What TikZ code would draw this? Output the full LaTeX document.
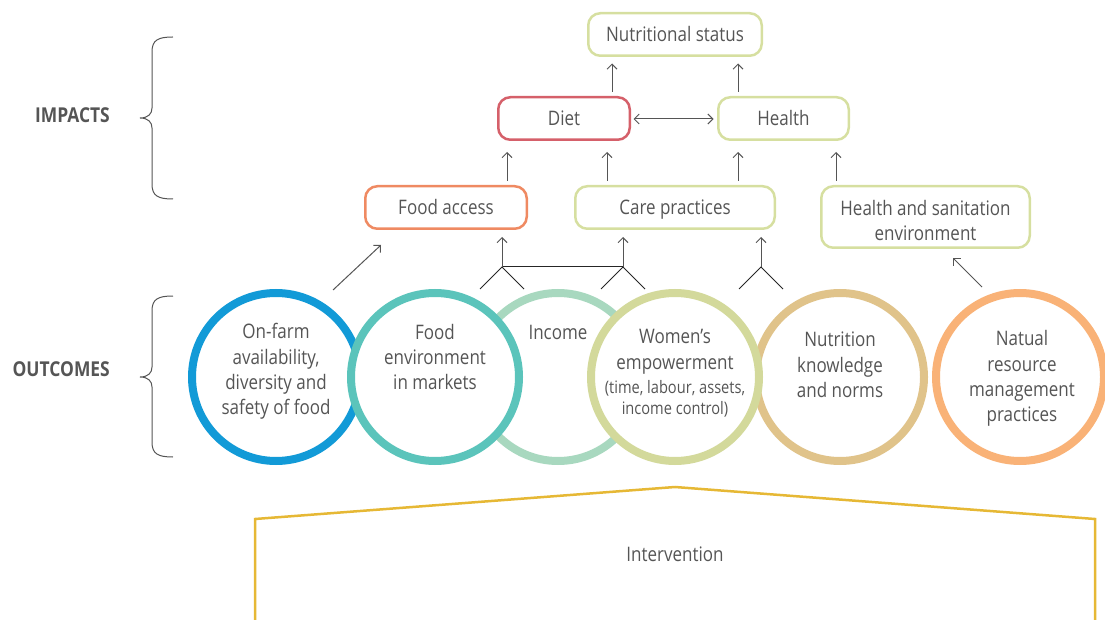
\documentclass[tikz,border=0pt]{standalone}
\usepackage{fontspec}
\setmainfont[FakeStretch=0.85]{Open Sans}
\usetikzlibrary{arrows.meta,calc}
\definecolor{txt}{HTML}{555555}
\definecolor{cblue}{HTML}{129AD7}
\definecolor{cteal}{HTML}{5BC4BB}
\definecolor{cmint}{HTML}{A8D8BF}
\definecolor{colive}{HTML}{D3D99B}
\definecolor{ctan}{HTML}{E0C38A}
\definecolor{corange}{HTML}{F9B277}
\definecolor{bred}{HTML}{D5606A}
\definecolor{borange}{HTML}{EF8A62}
\definecolor{bgreen}{HTML}{D6DFA0}
\definecolor{cyellow}{HTML}{E6B835}
\definecolor{arrgray}{HTML}{555555}
\tikzset{
  box/.style={draw, rounded corners=12pt, line width=2.5pt, minimum height=42.5pt, text=txt, font=\fontsize{20}{25}\selectfont, align=center, inner sep=2pt},
  ring/.style={circle, draw, fill=white, line width=8pt, minimum size=168pt, inner sep=0pt},
  ctext/.style={text=txt, font=\fontsize{20}{25.3}\selectfont, align=center, inner sep=0pt},
  arr/.style={draw=arrgray, line width=1pt, -{Straight Barb[length=5pt,width=10pt]}},
  fork/.style={draw=black!85, line width=1pt},
  brace/.style={draw=arrgray, line width=1pt},
  side/.style={text=txt, font=\fontsize{20.5}{24}\selectfont\bfseries, anchor=east, inner sep=0pt}
}
\begin{document}
\begin{tikzpicture}[x=1pt,y=-1pt]
\useasboundingbox (0,0) rectangle (1105,620);
% impact boxes
\node[box, draw=bgreen, minimum width=173.5pt] (nutri) at (675,34.5) {Nutritional status};
\node[box, draw=bred, minimum width=131.5pt] (diet) at (564,118.5) {Diet};
\node[box, draw=bgreen, minimum width=130.5pt] (health) at (783.5,118.5) {Health};
\node[box, draw=borange, minimum width=161.5pt] (food) at (446,207.5) {Food access};
\node[box, draw=bgreen, minimum width=199.5pt, text depth=0pt] (care) at (675,207.5) {Care practices};
\node[box, draw=bgreen, minimum width=208.5pt, minimum height=61.5pt] (hse) at (925.5,217) {\rule{0pt}{22pt}Health and sanitation\\environment};
% outcome circles
\node[ring, draw=cmint] (c3) at (558,377) {};
\node[ring, draw=cblue] (c1) at (276,377) {};
\node[ring, draw=cteal] (c2) at (435,377) {};
\node[ring, draw=ctan] (c5) at (840,377) {};
\node[ring, draw=colive] (c4) at (675,377) {};
\node[ring, draw=corange] (c6) at (1020,377) {};
\node[ctext] (t1) at (276,371.5) {On-farm\\availability,\\diversity and\\safety of food};
\node[ctext] (t2) at (435,357) {Food\\environment\\in markets};
\node[ctext] (t3) at (558,332) {Income};
\node[ctext, font=\fontsize{20}{26.5}\selectfont] (t4) at (675,352) {Women’s\\empowerment};
\node[ctext, font=\fontsize{17.2}{21}\selectfont] (t4b) at (675,399) {(time, labour, assets,\\income control)};
\node[ctext] (t5) at (840,365) {Nutrition\\knowledge\\and norms};
\node[ctext] (t6) at (1022,378.5) {Natual\\resource\\management\\practices};
% side labels
\node[side] (imp) at (110,115) {IMPACTS};
\node[side] (out) at (110,369) {OUTCOMES};
\draw[brace] (173,37) .. controls (158,37) and (152,40) .. (152,52) -- (152,108) .. controls (152,114) and (148,118) .. (140,118) .. controls (148,118) and (152,122) .. (152,128) -- (152,184) .. controls (152,196) and (158,199) .. (173,199);
\draw[brace] (173,296) .. controls (158,296) and (152,299) .. (152,311) -- (152,367) .. controls (152,373) and (148,377) .. (140,377) .. controls (148,377) and (152,381) .. (152,387) -- (152,442) .. controls (152,454) and (158,457) .. (173,457);
% impact arrows
\draw[arr] ($(diet.north)+(48,-4)$) -- ($(nutri.south)+(-63,6.5)$);
\draw[arr] ($(health.north)+(-45.5,-4)$) -- ($(nutri.south)+(63,6.5)$);
\draw[arrgray, line width=1pt, {Straight Barb[length=5pt,width=10pt]}-{Straight Barb[length=5pt,width=10pt]}] ($(diet.east)+(2.5,0.5)$) -- ($(health.west)+(-3.5,0.5)$);
\draw[arr] ($(food.north)+(61,-4)$) -- ($(diet.south)+(-57,11)$);
\draw[arr] ($(care.north)+(-68,-4)$) -- ($(diet.south)+(43,11)$);
\draw[arr] ($(care.north)+(63,-4)$) -- ($(health.south)+(-45.5,11)$);
\draw[arr] ($(hse.north)+(-89.5,-4)$) -- ($(health.south)+(52.5,11)$);
% outcome arrows
\draw[arr] ($(c1.center)+(57,-87)$) -- ($(food.south)+(-65,15)$);
\draw[arr] ($(c6.center)+(-38,-90)$) -- ($(hse.south)+(27.5,9)$);
% forks
\coordinate (fL) at (502,267);
\coordinate (fM) at (623,267);
\coordinate (fR) at (761,267);
\coordinate (lL1) at (480,289);
\coordinate (lL2) at (524,289);
\coordinate (lM1) at (601,289);
\coordinate (lM2) at (645,289);
\coordinate (lR1) at (739,289);
\coordinate (lR2) at (783,289);
\draw[fork] (lL1) -- (fL) -- (lL2);
\draw[fork] (lM1) -- (fM) -- (lM2);
\draw[fork] (lR1) -- (fR) -- (lR2);
\draw[fork] (fL) -- (fM);
\coordinate (aL) at ($(food.south)+(56,7)$);
\coordinate (aM) at ($(care.south)+(-52,7)$);
\coordinate (aR) at ($(care.south)+(86,7)$);
\draw[arr] (fL) -- (aL);
\draw[arr] (fM) -- (aM);
\draw[arr] (fR) -- (aR);
% intervention
\draw[cyellow, line width=2.5pt, line join=miter] (255,625) -- (255,519) -- (675,487) -- (1095,519) -- (1095,625);
\node[text=txt, font=\fontsize{20}{24}\selectfont] (interv) at (675,554) {Intervention};
\end{tikzpicture}
\end{document}
